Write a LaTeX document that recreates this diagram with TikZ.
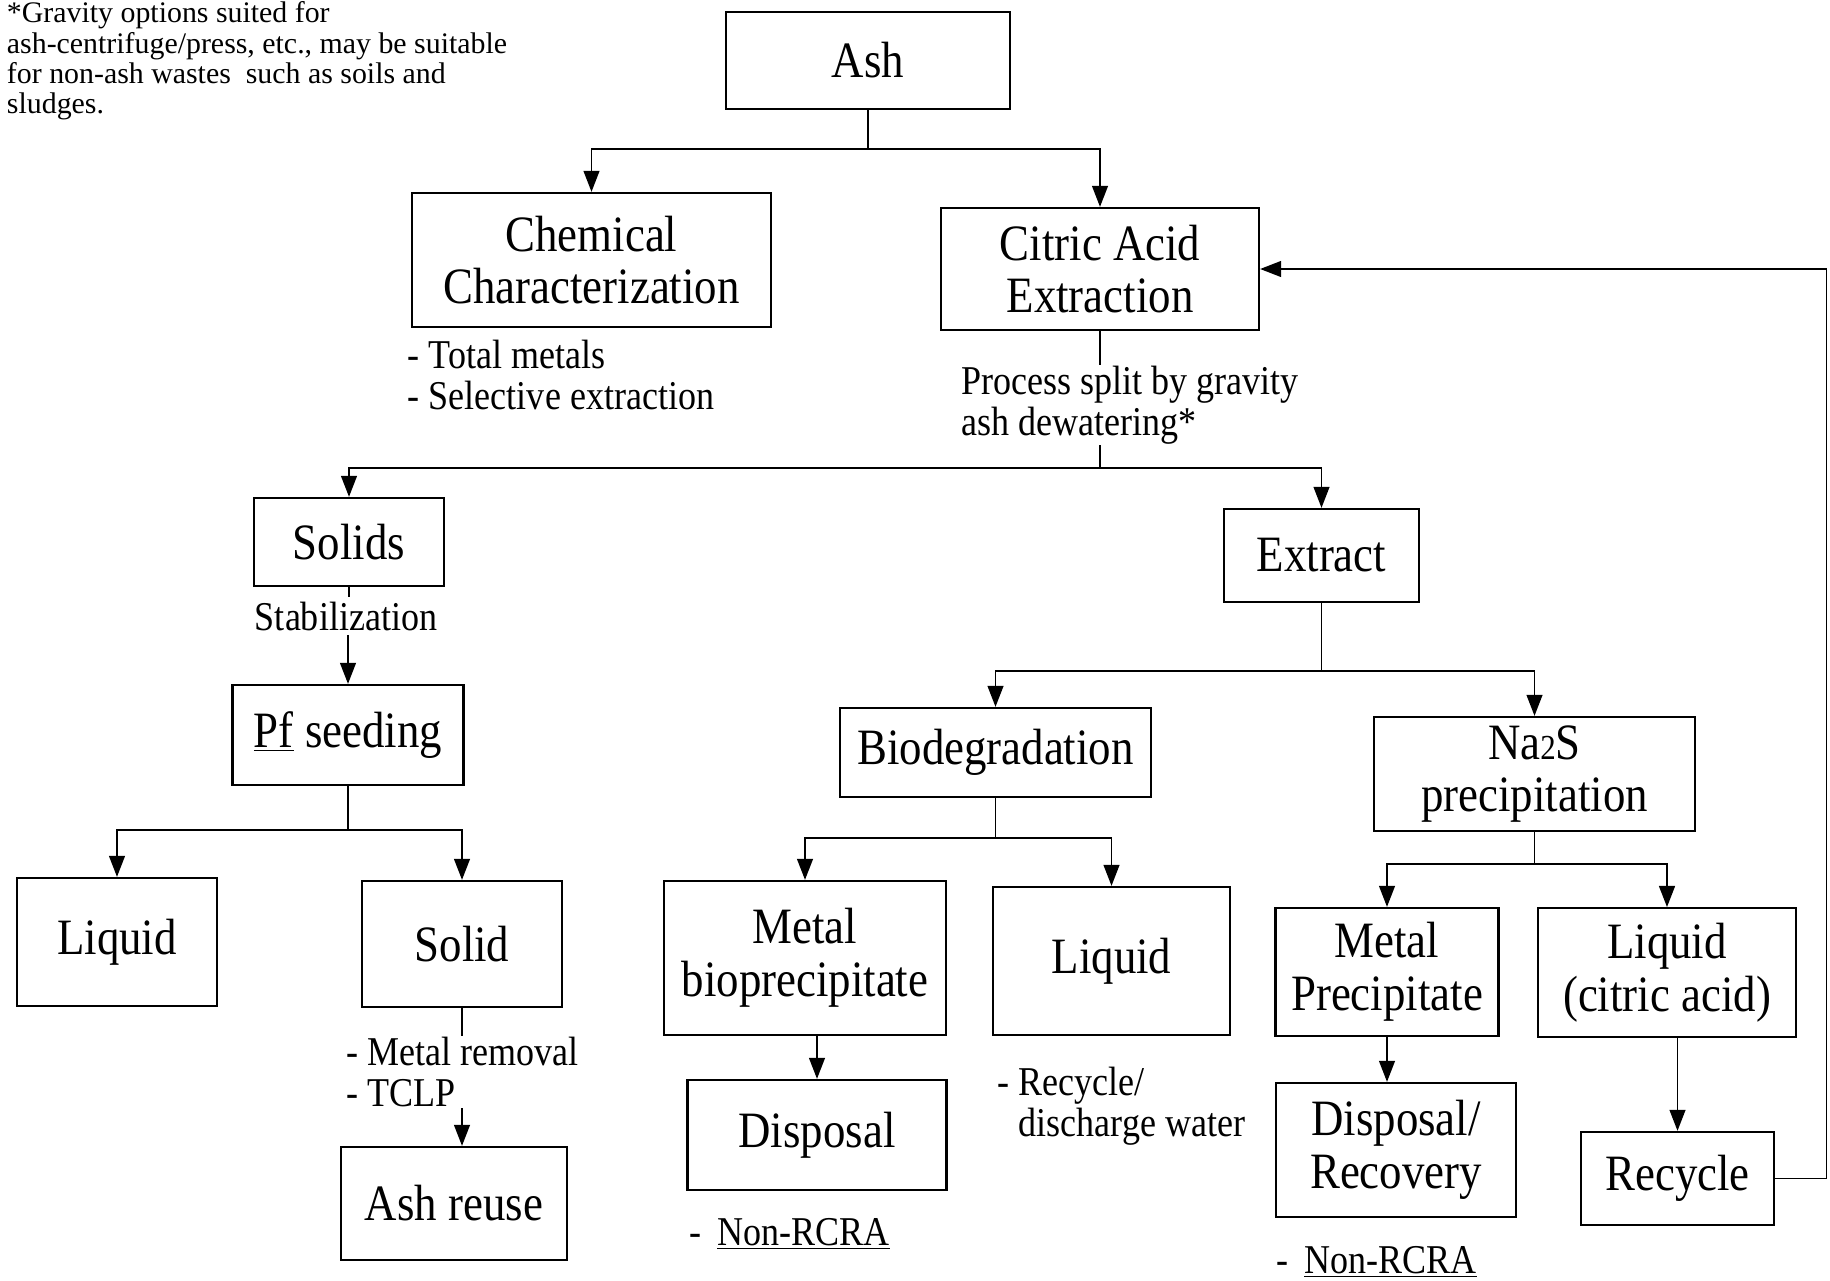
\documentclass[tikz,border=0pt]{standalone}
\usepackage{fontspec}
\setmainfont{Liberation Serif}
\newfontfamily\condfont{Liberation Serif}[FakeStretch=0.88]
\usetikzlibrary{arrows.meta}

\begin{document}
\begin{tikzpicture}[x=0.02cm, y=-0.02cm, line width=1.1pt, >={Triangle[length=12pt,width=9pt]},
  box/.style={draw, line width=1.3pt, inner sep=0pt, align=center, font=\condfont\fontsize{29}{30}\selectfont},
  note/.style={inner sep=0pt, align=left, font=\condfont\fontsize{23.3}{23.5}\selectfont}]
\useasboundingbox (0,0) rectangle (1830,1281);

% footnote in the corner
\node[anchor=north west, inner sep=0pt, align=left, font=\fontsize{17}{17.2}\selectfont] (gravnote) at (6,1) {*Gravity options suited for\\ash-centrifuge/press, etc., may be suitable\\for non-ash wastes\ \ such as soils and\\sludges.};

% boxes
\node[box, minimum width=5.68cm, minimum height=1.94cm] (ash) at (868,60.5) {Ash};
\node[box, minimum width=7.18cm, minimum height=2.68cm] (chem) at (591.5,260) {Chemical\\Characterization};
\node[box, minimum width=6.36cm, minimum height=2.44cm] (cae) at (1100,269) {Citric Acid\\Extraction};
\node[box, minimum width=3.8cm, minimum height=1.76cm] (solids) at (349,542) {Solids};
\node[box, minimum width=3.9cm, minimum height=1.86cm] (extract) at (1321.5,555.5) {Extract};
\node[box, minimum width=4.62cm, minimum height=2cm] (pf) at (348,735) {\underline{Pf} seeding};
\node[box, minimum width=6.22cm, minimum height=1.78cm] (biod) at (995.5,752.5) {Biodegradation};
\node[box, minimum width=6.42cm, minimum height=2.28cm] (nas) at (1534.5,774) {Na{\fontsize{20}{20}\selectfont 2}S\\precipitation};
\node[box, minimum width=4cm, minimum height=2.56cm] (liqa) at (117,942) {Liquid};
\node[box, minimum width=4cm, minimum height=2.52cm] (solid) at (462,944) {Solid};
\node[box, minimum width=4.52cm, minimum height=2.26cm] (reuse) at (454,1203.5) {Ash reuse};
\node[box, minimum width=5.64cm, minimum height=3.08cm] (mbio) at (805,958) {Metal\\bioprecipitate};
\node[box, minimum width=4.74cm, minimum height=2.96cm] (liqb) at (1111.5,961) {Liquid};
\node[box, minimum width=5.18cm, minimum height=2.2cm] (disp) at (817,1135) {Disposal};
\node[box, minimum width=4.46cm, minimum height=2.56cm] (mprec) at (1387,972) {Metal\\Precipitate};
\node[box, minimum width=5.16cm, minimum height=2.58cm] (liqc) at (1667,972.7) {Liquid\\(citric acid)};
\node[box, minimum width=4.8cm, minimum height=2.68cm] (disprec) at (1396,1150) {Disposal/\\Recovery};
\node[box, minimum width=3.86cm, minimum height=1.86cm] (recyc) at (1677.5,1178.5) {Recycle};

% notes beside the lines
\node[note, anchor=north west] (chemnote) at (407,339) {- Total metals\\- Selective extraction};
\node[note, anchor=north west] (splitnote) at (960.5,365) {Process split by gravity\\ash dewatering*};
\node[note, inner sep=2pt] (stabnote) at (346,616) {Stabilization};
\node[note, anchor=north west] (solidnote) at (345.5,1036) {- Metal removal\\- TCLP};
\node[note, anchor=north west] (liqnote) at (996.7,1066) {- Recycle/\\\phantom{- }discharge water};
\node[note, anchor=base west] (rcraa) at (688.6,1245) {- \,\underline{Non-RCRA}};
\node[note, anchor=base west] (rcrab) at (1275.6,1273) {- \,\underline{Non-RCRA}};

% branch points
\coordinate (ja) at (868,149);
\coordinate (jb) at (1100,468);
\coordinate (jc) at (348,830);
\coordinate (jd) at (1321.5,671);
\coordinate (je) at (995.5,838);
\coordinate (jf) at (1534.5,864);
\coordinate (ret) at (1826.5,269);

\draw (ash) -- (ja);
\draw[->] (ja) -| (chem);
\draw[->] (ja) -| (cae);
\draw (cae) -- (cae.south |- splitnote.north);
\draw (cae.south |- splitnote.south) -- (jb);
\draw[->] (jb) -| (solids);
\draw[->] (jb) -| (extract);
\draw (solids) -- (solids.south |- stabnote.north);
\draw[->] (pf.north |- stabnote.south) -- (pf);
\draw (pf) -- (jc);
\draw[->] (jc) -| (liqa);
\draw[->] (jc) -| (solid);
\draw (solid) -- (solid.south |- solidnote.north);
\draw[->] (solid.south |- solidnote.south) -- (solid.south |- reuse.north);
\draw (extract) -- (jd);
\draw[->] (jd) -| (biod);
\draw[->] (jd) -| (nas);
\draw (biod) -- (je);
\draw[->] (je) -| (mbio);
\draw[->] (je) -| (liqb);
\draw[->] (disp.north |- mbio.south) -- (disp);
\draw (nas) -- (jf);
\draw[->] (jf) -| (mprec);
\draw[->] (jf) -| (liqc);
\draw[->] (mprec) -- (mprec.south |- disprec.north);
\draw[->] (recyc.north |- liqc.south) -- (recyc);
\draw[->] (recyc) -- (recyc -| ret) |- (cae);

\end{tikzpicture}
\end{document}
